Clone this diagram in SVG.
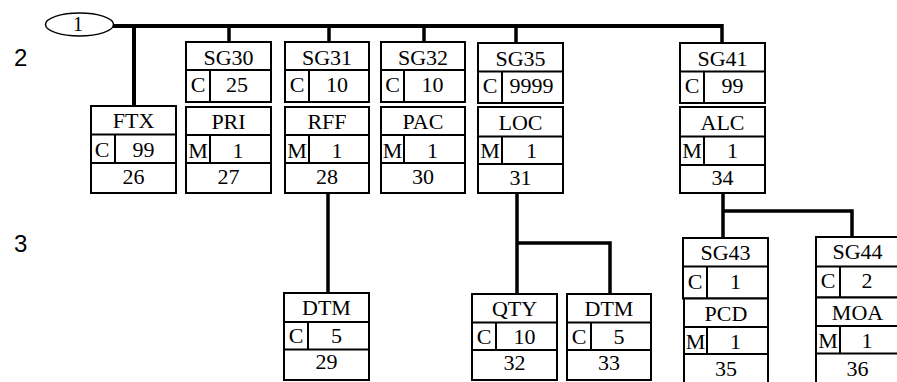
<svg xmlns="http://www.w3.org/2000/svg" width="897" height="382" viewBox="0 0 897 382">
<style>
.bx{fill:#fff;stroke:#000;stroke-width:2}
.dv{stroke:#000;stroke-width:2;fill:none}
.t{font-family:"Liberation Serif","Times New Roman",serif;font-size:22px;text-anchor:middle;fill:#000}
.lv{font-family:"Liberation Sans",Arial,sans-serif;font-size:24px;fill:#000}
.cn{stroke:#000;stroke-width:3.5;fill:none;stroke-linecap:butt}
</style>
<rect width="897" height="382" fill="#fff"/>
<text class="lv" x="14" y="65.5">2</text>
<text class="lv" x="14" y="252">3</text>
<g id="connectors">
<path class="cn" d="M113,26 H722" style="stroke-width:4"/>
<path class="cn" d="M722,24 V43"/>
<path class="cn" d="M134,26 V106" style="stroke-width:4"/>
<path class="cn" d="M229,26 V42"/>
<path class="cn" d="M329,26 V42"/>
<path class="cn" d="M424,26 V42"/>
<path class="cn" d="M516,26 V43"/>
<path class="cn" d="M328,194 V293"/>
<path class="cn" d="M517,193 V294 M517,243 H610 V294" style="stroke-linejoin:miter"/>
<path class="cn" d="M723,193 V238 M723,211 H852 V237" style="stroke-linejoin:miter"/>
</g>
<g id="n1">
<ellipse cx="79.5" cy="24.5" rx="34" ry="11.5" fill="#fff" stroke="#000" stroke-width="1.5"/>
<text class="t" x="78" y="31" style="font-size:20px">1</text>
</g>
<g id="FTX">
<rect class="bx" x="91" y="106" width="85" height="87"/>
<path class="dv" d="M91,134.5 H176 M91,163 H176 M115,134.5 V163"/>
<text class="t" x="133.5" y="128">FTX</text>
<text class="t" x="102" y="157">C</text>
<text class="t" x="143.5" y="157">99</text>
<text class="t" x="133.5" y="184">26</text>
</g>
<g id="SG30">
<rect class="bx" x="186" y="42" width="85" height="60"/>
<path class="dv" d="M186,70 H271 M210,70 V102"/>
<text class="t" x="228.5" y="65">SG30</text>
<text class="t" x="198" y="92">C</text>
<text class="t" x="237" y="92">25</text>
</g>
<g id="PRI">
<rect class="bx" x="186" y="107" width="85" height="86"/>
<path class="dv" d="M186,135 H271 M186,163 H271 M210,135 V163"/>
<text class="t" x="228.5" y="129">PRI</text>
<text class="t" x="198" y="158">M</text>
<text class="t" x="238" y="158">1</text>
<text class="t" x="228.5" y="184">27</text>
</g>
<g id="SG31">
<rect class="bx" x="285" y="42" width="84" height="60"/>
<path class="dv" d="M285,70 H369 M309,70 V102"/>
<text class="t" x="327" y="65">SG31</text>
<text class="t" x="297" y="92">C</text>
<text class="t" x="337" y="92">10</text>
</g>
<g id="RFF">
<rect class="bx" x="285" y="107" width="84" height="86"/>
<path class="dv" d="M285,135 H369 M285,163 H369 M309,135 V163"/>
<text class="t" x="327" y="129">RFF</text>
<text class="t" x="297" y="158">M</text>
<text class="t" x="337" y="158">1</text>
<text class="t" x="327" y="184">28</text>
</g>
<g id="SG32">
<rect class="bx" x="381" y="42" width="84" height="60"/>
<path class="dv" d="M381,70 H465 M404,70 V102"/>
<text class="t" x="423" y="65">SG32</text>
<text class="t" x="392.5" y="92">C</text>
<text class="t" x="432.5" y="92">10</text>
</g>
<g id="PAC">
<rect class="bx" x="381" y="107" width="84" height="86"/>
<path class="dv" d="M381,135 H465 M381,163 H465 M404,135 V163"/>
<text class="t" x="423" y="129">PAC</text>
<text class="t" x="392.5" y="158">M</text>
<text class="t" x="432.5" y="158">1</text>
<text class="t" x="423" y="184">30</text>
</g>
<g id="SG35">
<rect class="bx" x="478" y="43" width="85" height="60"/>
<path class="dv" d="M478,71.5 H563 M502,71.5 V103"/>
<text class="t" x="520.5" y="66">SG35</text>
<text class="t" x="490" y="93">C</text>
<text class="t" x="531.5" y="93">9999</text>
</g>
<g id="LOC">
<rect class="bx" x="478" y="107" width="85" height="86"/>
<path class="dv" d="M478,136.5 H563 M478,164 H563 M502,136.5 V164"/>
<text class="t" x="520.5" y="130">LOC</text>
<text class="t" x="490" y="158">M</text>
<text class="t" x="531.5" y="158">1</text>
<text class="t" x="520.5" y="185">31</text>
</g>
<g id="SG41">
<rect class="bx" x="680" y="43" width="85" height="60"/>
<path class="dv" d="M680,71.5 H765 M704,71.5 V103"/>
<text class="t" x="722.5" y="66">SG41</text>
<text class="t" x="692" y="93">C</text>
<text class="t" x="732.5" y="93">99</text>
</g>
<g id="ALC">
<rect class="bx" x="680" y="107" width="85" height="86"/>
<path class="dv" d="M680,136.5 H765 M680,165 H765 M704,136.5 V165"/>
<text class="t" x="722.5" y="130">ALC</text>
<text class="t" x="692" y="158">M</text>
<text class="t" x="732.5" y="158">1</text>
<text class="t" x="722.5" y="185">34</text>
</g>
<g id="DTM29">
<rect class="bx" x="284" y="293" width="85" height="87"/>
<path class="dv" d="M284,322 H369 M284,349.5 H369 M308,322 V349.5"/>
<text class="t" x="326.5" y="315">DTM</text>
<text class="t" x="296" y="343">C</text>
<text class="t" x="336.5" y="343">5</text>
<text class="t" x="326.5" y="369">29</text>
</g>
<g id="QTY">
<rect class="bx" x="472" y="294" width="85" height="86"/>
<path class="dv" d="M472,322.5 H557 M472,350 H557 M496,322.5 V350"/>
<text class="t" x="514.5" y="316">QTY</text>
<text class="t" x="484" y="344">C</text>
<text class="t" x="524.5" y="344">10</text>
<text class="t" x="514.5" y="370">32</text>
</g>
<g id="DTM33">
<rect class="bx" x="567" y="294" width="84" height="86"/>
<path class="dv" d="M567,322.5 H651 M567,350 H651 M591,322.5 V350"/>
<text class="t" x="609" y="316">DTM</text>
<text class="t" x="579" y="344">C</text>
<text class="t" x="619" y="344">5</text>
<text class="t" x="609" y="370">33</text>
</g>
<g id="SG43">
<rect class="bx" x="683" y="238" width="85" height="60.5"/>
<path class="dv" d="M683,266.5 H768 M707,266.5 V298.5"/>
<text class="t" x="725.5" y="260">SG43</text>
<text class="t" x="695" y="289">C</text>
<text class="t" x="735.5" y="289">1</text>
</g>
<g id="PCD">
<rect class="bx" x="684" y="298.5" width="84" height="100"/>
<path class="dv" d="M684,327 H768 M684,354 H768 M707,327 V354"/>
<text class="t" x="726" y="321">PCD</text>
<text class="t" x="695.5" y="349">M</text>
<text class="t" x="735.5" y="349">1</text>
<text class="t" x="726" y="376">35</text>
</g>
<g id="SG44">
<rect class="bx" x="816" y="237" width="85" height="60.5"/>
<path class="dv" d="M816,266.5 H901 M840,266.5 V297.5"/>
<text class="t" x="857.5" y="259">SG44</text>
<text class="t" x="828" y="288">C</text>
<text class="t" x="867" y="288">2</text>
</g>
<g id="MOA">
<rect class="bx" x="816" y="297.5" width="85" height="100"/>
<path class="dv" d="M816,326 H901 M816,353.5 H901 M840,326 V353.5"/>
<text class="t" x="857.5" y="320">MOA</text>
<text class="t" x="828" y="348">M</text>
<text class="t" x="867" y="348">1</text>
<text class="t" x="857.5" y="376">36</text>
</g>
</svg>
